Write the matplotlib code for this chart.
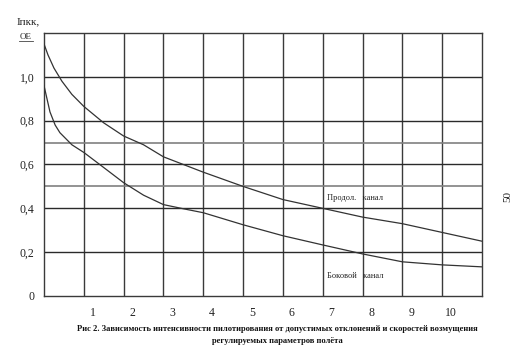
import matplotlib
matplotlib.use("Agg")
import matplotlib.pyplot as plt

# Data
x_long = [0, 0.1, 0.25, 0.45, 0.7, 1, 1.5, 2, 2.5, 3, 3.5, 4, 5, 6, 7, 8, 9, 10, 11]
y_long = [1.15, 1.10, 1.04, 0.98, 0.92, 0.865, 0.79, 0.73, 0.69, 0.635, 0.60, 0.565,
          0.50, 0.44, 0.40, 0.36, 0.33, 0.29, 0.25]
x_lat = [0, 0.075, 0.15, 0.28, 0.4, 0.7, 1, 1.4, 2, 2.5, 3, 3.5, 4, 5, 6, 7, 8, 9, 10, 11]
y_lat = [0.96, 0.90, 0.84, 0.78, 0.745, 0.69, 0.655, 0.60, 0.517, 0.46, 0.417, 0.398,
         0.38, 0.325, 0.275, 0.233, 0.192, 0.156, 0.142, 0.133]
x_tick_labels = ["1", "2", "3", "4", "5", "6", "7", "8", "9", "10"]
y_ticks = [0, 0.2, 0.4, 0.6, 0.8, 1.0]
y_tick_labels = ["0", "0,2", "0,4", "0,6", "0,8", "1,0"]
v_grid = [1, 2, 3, 4, 5, 6, 7, 8, 9, 10]
h_grid_dark = [0.2, 0.4, 0.6, 0.8, 1.0]
h_grid_light = [0.5, 0.7]

plt.rcParams['font.family'] = ['Liberation Serif', 'DejaVu Serif']

fig = plt.figure(figsize=(5.19, 3.57), dpi=100)
ax = fig.add_axes([44/519, 61/357, 438/519, 263/357])
ax.set_xlim(0, 11)
ax.set_ylim(0, 1.2)

for v in v_grid:
    ax.axvline(v, color="#3a3a3a", lw=1.0, zorder=1)
for h in h_grid_dark:
    ax.axhline(h, color="#2a2a2a", lw=1.0, zorder=1)
for h in h_grid_light:
    ax.axhline(h, color="#808080", lw=1.2, zorder=1)

ax.plot(x_long, y_long, color="#333333", lw=0.9, zorder=3)
ax.plot(x_lat, y_lat, color="#333333", lw=0.9, zorder=3)

for s in ax.spines.values():
    s.set_color("#3a3a3a")
    s.set_linewidth(1.0)

ax.set_xticks([k + 0.22 for k in range(1, 11)])
ax.set_xticklabels(x_tick_labels, fontsize=8.5)
ax.set_yticks(y_ticks)
ax.set_yticklabels(y_tick_labels, fontsize=8.5)
ax.tick_params(length=0, pad=8, colors="#222222")
ax.tick_params(axis="y", pad=7)

ax.text(7.1, 0.445, "Продол.   канал", fontsize=6, color="#222222", va="center")
ax.text(7.1, 0.09, "Боковой   канал", fontsize=6, color="#222222", va="center")

fig.text(17/519, 1 - 22/357, "Iпкк,", fontsize=8, color="#222222", va="center")
fig.text(20/519, 1 - 37/357, "ОЕ", fontsize=6.5, color="#222222", va="center")
fig.add_artist(plt.Line2D([19/519, 33/519], [1 - 41/357, 1 - 41/357], color="#444444", lw=0.6))

fig.text(508/519, 1 - 197/357, "50", fontsize=8, rotation=90, color="#222222",
         ha="center", va="center")

fig.text(277/519, 1 - 329/357,
         "Рис 2. Зависимость интенсивности пилотирования от допустимых отклонений и скоростей возмущения",
         fontsize=6.1, fontweight="bold", ha="center", va="center", color="#111111")
fig.text(277/519, 1 - 341/357, "регулируемых параметров полёта",
         fontsize=6.1, fontweight="bold", ha="center", va="center", color="#111111")

fig.savefig("out.png", dpi=100)
